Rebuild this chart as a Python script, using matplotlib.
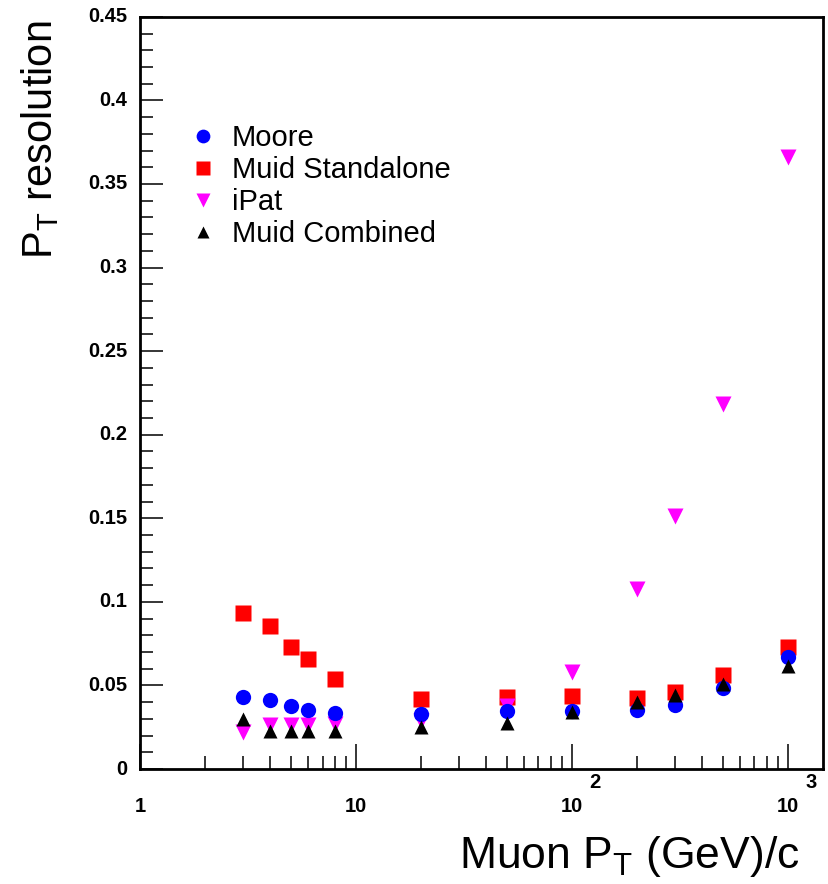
import matplotlib
matplotlib.use("Agg")
import matplotlib.pyplot as plt
from matplotlib.ticker import FixedLocator, MultipleLocator, NullFormatter

plt.rcParams['font.family'] = ['Liberation Sans', 'DejaVu Sans']
plt.rcParams['mathtext.fontset'] = 'custom'
plt.rcParams['mathtext.rm'] = 'Liberation Sans'
plt.rcParams['mathtext.bf'] = 'Liberation Sans:bold'

pt = [3, 4, 5, 6, 8, 20, 50, 100, 200, 300, 500, 1000]
moore = [0.0433, 0.0414, 0.038, 0.0354, 0.0334, 0.033, 0.035, 0.035, 0.0355, 0.0384, 0.0484, 0.067]
standalone = [0.0933, 0.0857, 0.073, 0.0658, 0.054, 0.0418, 0.0433, 0.0438, 0.0424, 0.0463, 0.0564, 0.073]
ipat = [0.0224, 0.0264, 0.0264, 0.0264, 0.027, 0.029, 0.038, 0.0583, 0.1077, 0.1513, 0.2182, 0.3661]
combined = [0.0298, 0.023, 0.023, 0.023, 0.023, 0.0254, 0.0274, 0.0344, 0.0404, 0.0444, 0.051, 0.0618]

names = ["Moore", "Muid Standalone", "iPat", "Muid Combined"]

yt = [0, 0.05, 0.1, 0.15, 0.2, 0.25, 0.3, 0.35, 0.4, 0.45]
ylabels = ["0", "0.05", "0.1", "0.15", "0.2", "0.25", "0.3", "0.35", "0.4", "0.45"]
xt = [1, 10, 100, 1000]
xbase = ["1", "10", "10", "10"]
xexp = ["", "", "2", "3"]

fig = plt.figure(figsize=(8.29, 8.84), dpi=100)
ax = fig.add_axes([0.169, 0.130, 0.824, 0.851])

h_red, = ax.plot(pt, standalone, 's', color='#ff0000', ms=11, mec='none', zorder=3, linestyle='none')
h_mag, = ax.plot(pt, ipat, 'v', color='#ff00ff', ms=11, mec='none', zorder=4, linestyle='none')
h_blue, = ax.plot(pt, moore, 'o', color='#0000ff', ms=11, mec='none', zorder=5, linestyle='none')
h_blk, = ax.plot(pt, combined, '^', color='black', ms=10, mec='none', zorder=6, linestyle='none')

ax.set_xscale('log')
ax.set_xlim(1, 1460)
ax.set_ylim(0, 0.45)

for s in ax.spines.values():
    s.set_linewidth(2)

ax.yaxis.set_major_locator(MultipleLocator(0.05))
ax.yaxis.set_minor_locator(MultipleLocator(0.01))
ax.tick_params(axis='both', which='major', direction='in', length=16.5, width=1.1,
               top=False, right=False, labelbottom=False, labelleft=False)
ax.tick_params(axis='both', which='minor', direction='in', length=9.5, width=1.1,
               top=False, right=False)
ax.tick_params(axis='x', which='major', length=18)

ax.xaxis.set_major_locator(FixedLocator(xt))
minors = [m * d for d in (1, 10, 100, 1000) for m in range(2, 10) if m * d < 1460]
ax.xaxis.set_minor_locator(FixedLocator(minors))
ax.xaxis.set_minor_formatter(NullFormatter())

for v, lab in zip(yt, ylabels):
    ax.annotate(lab, xy=(0, v), xycoords=('axes fraction', 'data'),
                xytext=(-9, 0), textcoords='offset points',
                ha='right', va='center', fontsize=14.5, fontweight='bold')

for v, b, e in zip(xt, xbase, xexp):
    ax.annotate(b, xy=(v, 0), xycoords=('data', 'axes fraction'),
                xytext=(0, -27), textcoords='offset points',
                ha='center', va='center', fontsize=14.5, fontweight='bold')
    if e:
        ax.annotate(e, xy=(v, 0), xycoords=('data', 'axes fraction'),
                    xytext=(16.5, -10), textcoords='offset points',
                    ha='center', va='center', fontsize=14.5, fontweight='bold')

fig.text(0.965, 0.018, r"Muon P$_{\mathrm{T}}$ (GeV)/c", ha='right', va='baseline', fontsize=32)
fig.text(0.048, 0.977, r"P$_{\mathrm{T}}$ resolution", ha='center', va='top',
         rotation=90, fontsize=30)

leg = ax.legend([h_blue, h_red, h_mag, h_blk], names, loc='upper left',
                bbox_to_anchor=(0.053, 0.877), frameon=False, fontsize=21,
                handletextpad=0.6, labelspacing=0.14, handlelength=0.8,
                markerscale=0.9, borderpad=0)

fig.savefig("out.png", dpi=100)
